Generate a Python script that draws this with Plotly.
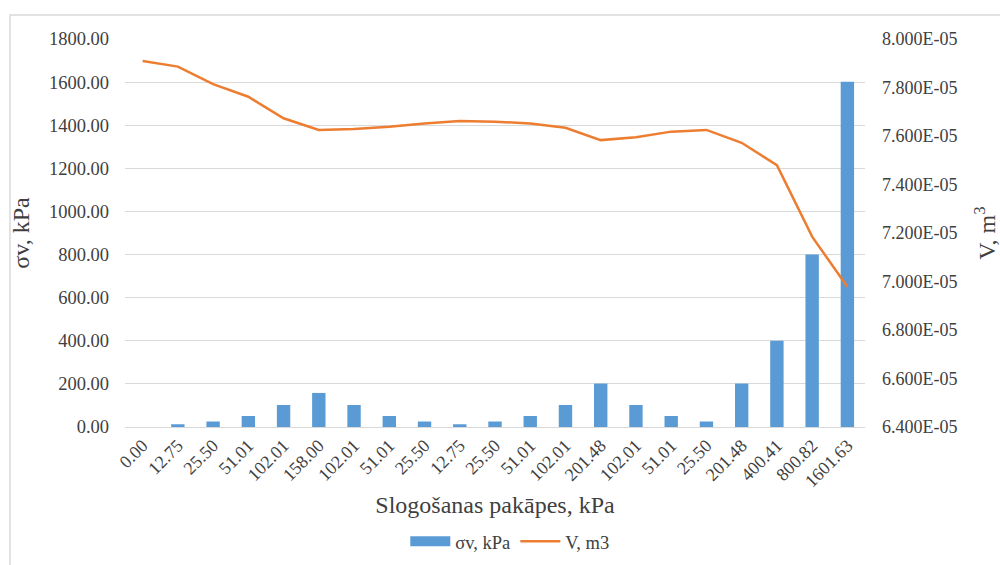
import plotly.graph_objects as go

# Load steps (category labels) and measured values
step_labels = ["0.00", "12.75", "25.50", "51.01", "102.01", "158.00", "102.01", "51.01",
               "25.50", "12.75", "25.50", "51.01", "102.01", "201.48", "102.01", "51.01",
               "25.50", "201.48", "400.41", "800.82", "1601.63"]
sigma_v = [0.00, 12.75, 25.50, 51.01, 102.01, 158.00, 102.01, 51.01,
           25.50, 12.75, 25.50, 51.01, 102.01, 201.48, 102.01, 51.01,
           25.50, 201.48, 400.41, 800.82, 1601.63]
volume = [7.909e-05, 7.886e-05, 7.814e-05, 7.762e-05, 7.673e-05, 7.625e-05, 7.629e-05,
          7.638e-05, 7.652e-05, 7.662e-05, 7.659e-05, 7.652e-05, 7.634e-05, 7.583e-05,
          7.595e-05, 7.618e-05, 7.625e-05, 7.572e-05, 7.480e-05, 7.185e-05, 6.978e-05]

left_ticks = [0, 200, 400, 600, 800, 1000, 1200, 1400, 1600, 1800]
right_ticks = [6.4e-05, 6.6e-05, 6.8e-05, 7.0e-05, 7.2e-05, 7.4e-05, 7.6e-05, 7.8e-05, 8.0e-05]
right_tick_text = ["6.400E-05", "6.600E-05", "6.800E-05", "7.000E-05", "7.200E-05",
                   "7.400E-05", "7.600E-05", "7.800E-05", "8.000E-05"]

positions = list(range(len(step_labels)))

FONT = "Liberation Serif"
TXT = "#404040"
GRID = "#d9d9d9"
BAR_COLOR = "#5B9BD5"
LINE_COLOR = "#ED7D31"

fig = go.Figure()
fig.add_trace(go.Bar(x=positions, y=sigma_v, name="σv, kPa", showlegend=False,
                     marker=dict(color=BAR_COLOR, line=dict(width=0)), yaxis="y"))
# legend key for the bars drawn as a wide filled swatch
fig.add_trace(go.Scatter(x=[None], y=[None], name="σv, kPa", mode="lines",
                         line=dict(color=BAR_COLOR, width=10), yaxis="y"))
fig.add_trace(go.Scatter(x=positions, y=volume, name="V, m3", mode="lines",
                         line=dict(color=LINE_COLOR, width=2.5), yaxis="y2"))

fig.update_layout(
    width=1000, height=565,
    margin=dict(l=125, r=135, t=39, b=138, autoexpand=False),
    paper_bgcolor="white", plot_bgcolor="white",
    font=dict(family=FONT, size=18, color=TXT),
    bargap=0.62,
    showlegend=True,
    legend=dict(orientation="h", x=0.52, xanchor="center", y=-0.296, yanchor="middle",
                font=dict(family=FONT, size=18.5, color=TXT), itemwidth=40,
                tracegroupgap=0),
    xaxis=dict(
        tickmode="array", tickvals=positions, ticktext=step_labels,
        tickangle=-45, range=[-0.5, len(step_labels) - 0.5],
        showgrid=False, showline=True, linecolor=GRID, linewidth=1,
        ticks="", tickfont=dict(family=FONT, size=18, color=TXT),
        title=dict(text="Slogošanas pakāpes, kPa", font=dict(family=FONT, size=24, color=TXT),
                   standoff=6),
        zeroline=False, automargin=False,
    ),
    yaxis=dict(
        range=[0, 1800], tickmode="array", tickvals=left_ticks, tickformat=".2f",
        showgrid=True, gridcolor=GRID, gridwidth=1, zeroline=False, showline=False,
        ticks="", ticklabelstandoff=15, tickfont=dict(family=FONT, size=18.5, color=TXT),
        title=dict(text="σv, kPa", font=dict(family=FONT, size=24, color=TXT), standoff=12),
        automargin=False,
    ),
    yaxis2=dict(
        overlaying="y", side="right", range=[6.4e-05, 8.0e-05],
        tickmode="array", tickvals=right_ticks, ticktext=right_tick_text,
        showgrid=False, zeroline=False, showline=False, ticks="",
        ticklabelstandoff=16, tickfont=dict(family=FONT, size=18, color=TXT),
        title=dict(text="V, m<sup>3</sup>", font=dict(family=FONT, size=24, color=TXT),
                   standoff=24),
        automargin=False,
    ),
)

# Chart-area border
fig.add_shape(type="rect", xref="paper", yref="paper",
              x0=-0.1554, x1=1.2, y0=-0.5, y1=1.0619,
              line=dict(color=GRID, width=1.5), fillcolor="rgba(0,0,0,0)", layer="below")

fig.write_html("out.html")
